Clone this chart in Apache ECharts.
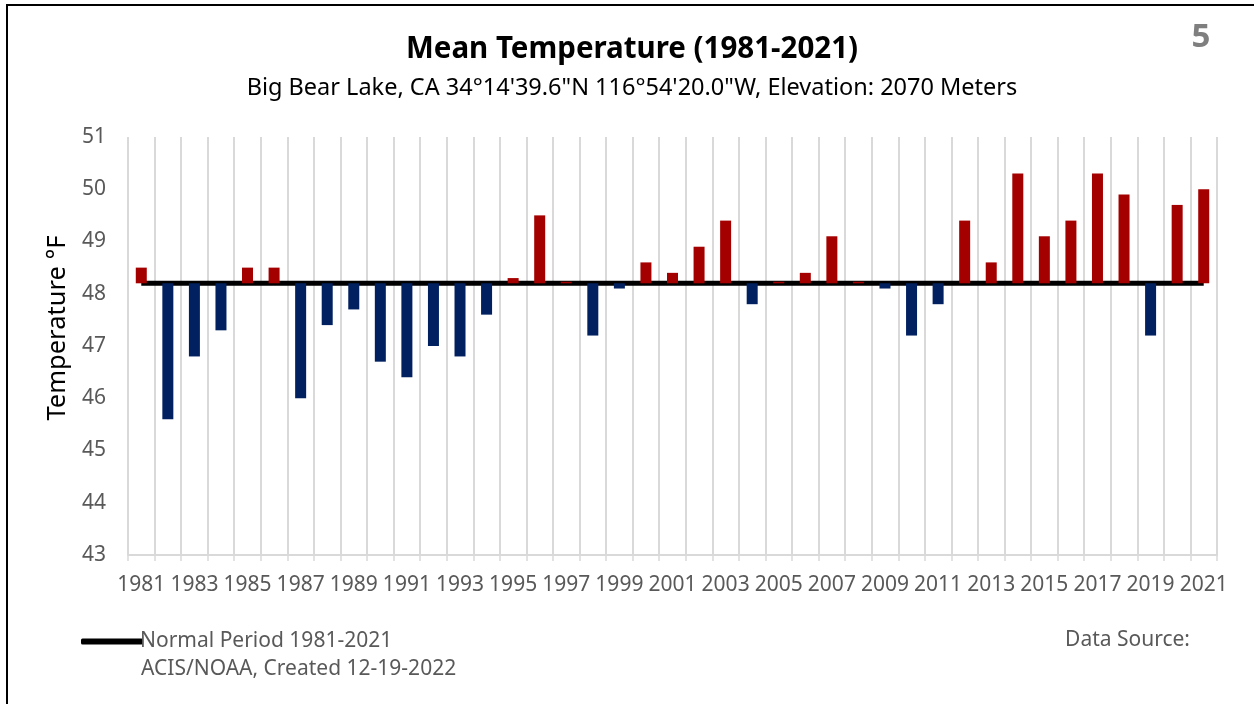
<!DOCTYPE html>
<html>
<head>
<meta charset="utf-8">
<script src="https://cdn.jsdelivr.net/npm/echarts@6/dist/echarts.min.js"></script>
<style>html,body{margin:0;padding:0;background:#fff}#c{width:1254px;height:704px}</style>
</head>
<body>
<div id="c"></div>
<script>
const years = ['1981','1982','1983','1984','1985','1986','1987','1988','1989','1990','1991','1992','1993','1994','1995','1996','1997','1998','1999','2000','2001','2002','2003','2004','2005','2006','2007','2008','2009','2010','2011','2012','2013','2014','2015','2016','2017','2018','2019','2020','2021'];
const meanTemp = [48.5,45.6,46.8,47.3,48.5,48.5,46.0,47.4,47.7,46.7,46.4,47.0,46.8,47.6,48.3,49.5,48.23,47.2,48.1,48.6,48.4,48.9,49.4,47.8,48.23,48.4,49.1,48.23,48.1,47.2,47.8,49.4,48.6,50.3,49.1,49.4,50.3,49.9,47.2,49.7,50.0];
const normal = 48.2;
const yTicks = {min: 43, max: 51, interval: 1};

const normalLine = years.map(() => normal);
const baseVals = meanTemp.map(v => Math.min(v, normal));
const belowVals = meanTemp.map(v => v < normal ? +(normal - v).toFixed(3) : 0);
const aboveVals = meanTemp.map(v => v > normal ? +(v - normal).toFixed(3) : 0);

const FONT = '"Noto Sans", sans-serif';
const chart = echarts.init(document.getElementById('c'), null, {renderer: 'canvas'});
chart.setOption({
  animation: false,
  backgroundColor: '#fff',
  grid: {left: 128, right: 37, top: 137, bottom: 149, containLabel: false},
  legend: {
    data: [{name: 'Normal Period 1981-2021', icon: 'roundRect'}],
    left: 76, top: 626, itemWidth: 62, itemHeight: 6, itemGap: 0,
    textStyle: {color: '#595959', fontSize: 21, fontFamily: FONT, padding: [0,0,0,-8]}
  },
  xAxis: {
    type: 'category', data: years, boundaryGap: true,
    axisLine: {lineStyle: {color: '#d9d9d9', width: 2}},
    axisTick: {show: true, interval: 0, length: 6, lineStyle: {color: '#d9d9d9', width: 1.5}},
    splitLine: {show: true, interval: 0, lineStyle: {color: '#d9d9d9', width: 2}},
    axisLabel: {interval: 1, color: '#595959', fontSize: 21, fontFamily: FONT, margin: 20}
  },
  yAxis: {
    type: 'value', min: yTicks.min, max: yTicks.max, interval: yTicks.interval,
    axisLine: {show: false}, axisTick: {show: false}, splitLine: {show: false},
    axisLabel: {color: '#595959', fontSize: 21, fontFamily: FONT, margin: 22}
  },
  series: [
    {name: 'Normal Period 1981-2021', type: 'line', data: normalLine, symbol: 'none',
     lineStyle: {color: '#000', width: 5}, itemStyle: {color: '#000'}, z: 1},
    {name: 'base', type: 'bar', stack: 't', data: baseVals, barWidth: 11,
     itemStyle: {color: 'rgba(0,0,0,0)'}, z: 3, silent: true},
    {name: 'below', type: 'bar', stack: 't', data: belowVals, barWidth: 11,
     itemStyle: {color: '#002060'}, z: 3},
    {name: 'above', type: 'bar', stack: 't', data: aboveVals, barWidth: 11,
     itemStyle: {color: '#a50000'}, z: 3}
  ],
  graphic: [
    {type: 'rect', shape: {x: 7, y: 5, width: 1300, height: 760}, style: {fill: 'none', stroke: '#000', lineWidth: 2}, silent: true},
    {type: 'text', x: 632, y: 50, style: {text: 'Mean Temperature (1981-2021)', font: 'bold 29.5px "Noto Sans", sans-serif', fill: '#000', textAlign: 'center', textVerticalAlign: 'middle'}},
    {type: 'text', x: 632, y: 88, style: {text: 'Big Bear Lake, CA 34°14\'39.6"N 116°54\'20.0"W, Elevation: 2070 Meters', font: '23.5px "Noto Sans", sans-serif', fill: '#000', textAlign: 'center', textVerticalAlign: 'middle'}},
    {type: 'text', x: 1201, y: 38, style: {text: '5', font: 'bold 33px "Noto Sans", sans-serif', fill: '#7f7f7f', textAlign: 'center', textVerticalAlign: 'middle'}},
    {type: 'text', x: 58, y: 328, rotation: Math.PI / 2, style: {text: 'Temperature °F', font: '25.5px "Noto Sans", sans-serif', fill: '#000', textAlign: 'center', textVerticalAlign: 'middle'}},
    {type: 'text', x: 141, y: 669, style: {text: 'ACIS/NOAA, Created 12-19-2022', font: '21px "Noto Sans", sans-serif', fill: '#595959', textAlign: 'left', textVerticalAlign: 'middle'}},
    {type: 'text', x: 1190, y: 640, style: {text: 'Data Source:', font: '21px "Noto Sans", sans-serif', fill: '#595959', textAlign: 'right', textVerticalAlign: 'middle'}}
  ]
});
</script>
</body>
</html>
